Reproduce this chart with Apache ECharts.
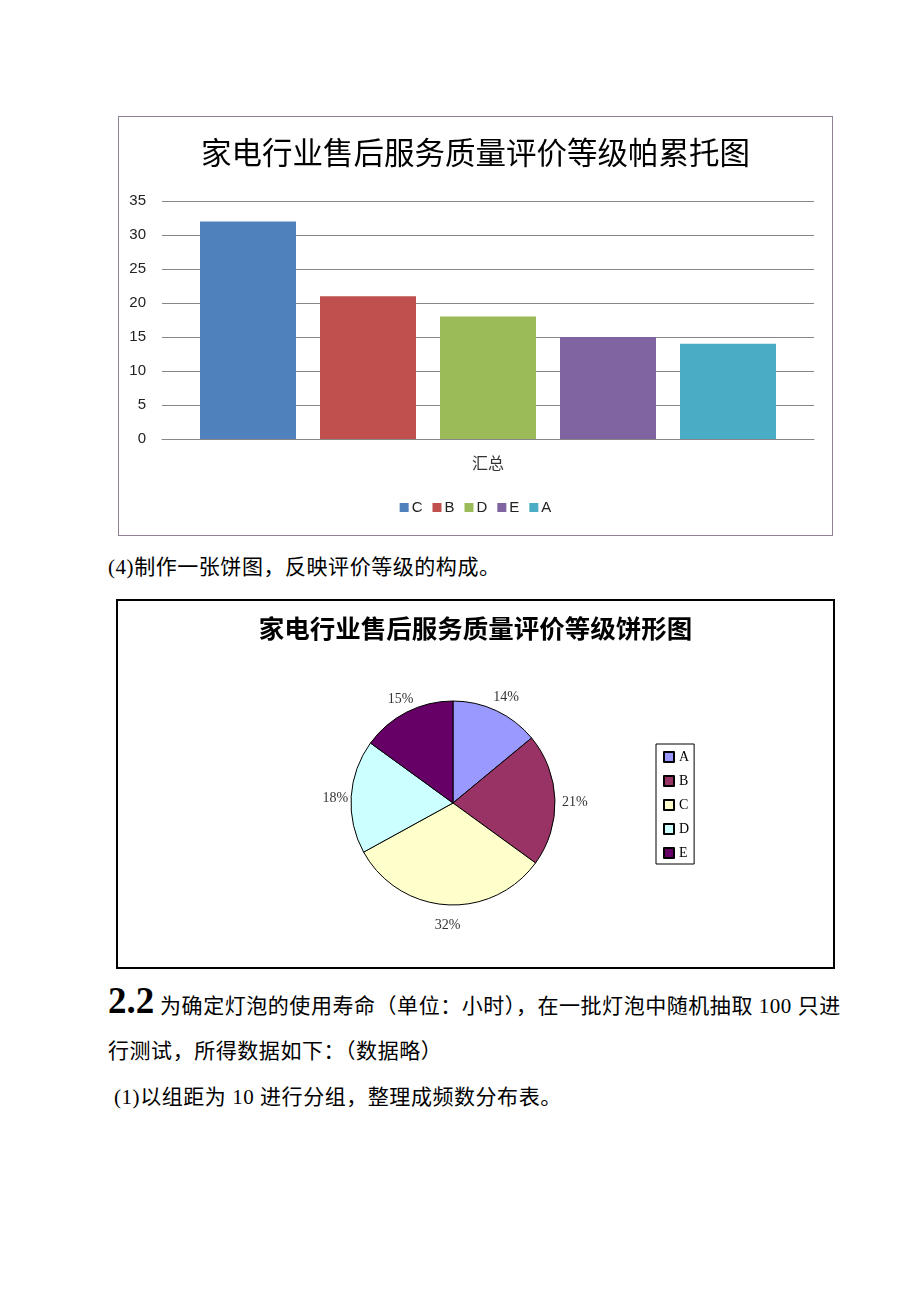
<!DOCTYPE html>
<html>
<head>
<meta charset="utf-8">
<script src="https://cdn.jsdelivr.net/npm/echarts@6/dist/echarts.min.js"></script>
<style>
  html, body { margin: 0; padding: 0; background: #fff; }
  body { width: 920px; height: 1302px; position: relative; overflow: hidden; }
  #bar { position: absolute; left: 118px; top: 116px; width: 715px; height: 420px; box-sizing: border-box; border: 1px solid #8e8198; }
  #pie { position: absolute; left: 116px; top: 599px; width: 719px; height: 370px; box-sizing: border-box; border: 2px solid #000; }
  .txt { position: absolute; font-family: 'Liberation Serif', 'Noto Sans CJK SC', serif; font-size: 21px; color: #000; white-space: nowrap; line-height: 1; letter-spacing: 0.55px; }
  .big { font-family: 'Liberation Serif', serif; font-weight: bold; font-size: 37px; letter-spacing: 0; }
</style>
</head>
<body>
<div id="bar"></div>
<div id="pie"></div>
<div class="txt" style="left:108px; top:557px;">(4)制作一张饼图，反映评价等级的构成。</div>
<div class="txt" style="left:108px; top:982px;"><span class="big">2.2</span> 为确定灯泡的使用寿命（单位：小时），在一批灯泡中随机抽取 100 只进</div>
<div class="txt" style="left:108px; top:1041px;">行测试，所得数据如下：（数据略）</div>
<div class="txt" style="left:114px; top:1087px;">(1)以组距为 10 进行分组，整理成频数分布表。</div>
<script>
// ---- data ----
const grades = ['A', 'B', 'C', 'D', 'E'];
const counts = [14, 21, 32, 18, 15];
const paretoOrder = ['C', 'B', 'D', 'E', 'A'];
const barCategory = ['汇总'];
const yTicks = [0, 5, 10, 15, 20, 25, 30, 35];
const barTitle = '家电行业售后服务质量评价等级帕累托图';
const pieTitle = '家电行业售后服务质量评价等级饼形图';
const barColors = ['#4F81BD', '#C0504D', '#9BBB59', '#8064A2', '#4BACC6'];
const pieColors = ['#9999FF', '#993366', '#FFFFCC', '#CCFFFF', '#660066'];

// ---- bar chart ----
const barChart = echarts.init(document.getElementById('bar'), null, { renderer: 'canvas' });
const countOf = g => counts[grades.indexOf(g)];
barChart.setOption({
  animation: false,
  color: barColors,
  title: {
    text: barTitle, left: 'center', top: 20, padding: 0,
    textStyle: { fontFamily: 'Noto Sans CJK SC', fontSize: 30.5, fontWeight: 'normal', color: '#000' }
  },
  legend: {
    data: paretoOrder, bottom: 20, left: 'center', padding: 0,
    itemWidth: 9, itemHeight: 9, itemGap: 10, icon: 'rect',
    textStyle: { fontFamily: 'Liberation Sans Narrow, Liberation Sans', fontSize: 15, color: '#222', padding: [0, 0, 0, -2] }
  },
  grid: { left: 43, right: 18, top: 84, bottom: 96 },
  xAxis: {
    type: 'category', data: barCategory,
    axisLine: { lineStyle: { color: '#868686' } },
    axisTick: { show: false },
    axisLabel: { margin: 16, fontFamily: 'Noto Sans CJK SC', fontSize: 16, color: '#333' }
  },
  yAxis: {
    type: 'value', min: yTicks[0], max: yTicks[yTicks.length - 1], interval: 5,
    axisLine: { show: false }, axisTick: { show: false },
    axisLabel: { margin: 16, fontFamily: 'Liberation Sans Narrow, Liberation Sans', fontSize: 15, color: '#222' },
    splitLine: { lineStyle: { color: '#868686', width: 1 } }
  },
  series: paretoOrder.map(g => ({
    name: g, type: 'bar', data: [countOf(g)], barWidth: 96, barGap: '25%'
  }))
});

// ---- pie chart ----
const pieChart = echarts.init(document.getElementById('pie'), null, { renderer: 'canvas' });
const pieCenter = [335, 202];
const pieRadius = 102;
const labelRadius = 120;
const total = counts.reduce((a, b) => a + b, 0);
const midAngles = [];
{
  let acc = 0;
  counts.forEach(v => { midAngles.push((acc + v / 2) / total * 2 * Math.PI); acc += v; });
}
pieChart.setOption({
  animation: false,
  color: pieColors,
  title: {
    text: pieTitle, left: 'center', top: 15, padding: 0,
    textStyle: { fontFamily: 'Noto Sans CJK SC', fontSize: 25.5, fontWeight: 'bold', color: '#000' }
  },
  legend: {
    orient: 'vertical', left: 538, top: 143, data: grades,
    borderColor: '#000', borderWidth: 1, padding: [6, 5, 4, 7],
    itemWidth: 10, itemHeight: 10, itemGap: 10, icon: 'rect',
    textStyle: { fontFamily: 'Liberation Serif', fontSize: 14, color: '#000' }
  },
  series: [{
    type: 'pie', center: pieCenter, radius: pieRadius, startAngle: 90, clockwise: true,
    itemStyle: { borderColor: '#000', borderWidth: 1 },
    label: { show: true, position: 'outside', formatter: '{d}%', fontFamily: 'Liberation Serif', fontSize: 14, color: '#333' },
    labelLine: { show: false, length: 5, length2: 0 },
    labelLayout: function (p) {
      const a = midAngles[p.dataIndex];
      return {
        x: pieCenter[0] + labelRadius * Math.sin(a) + 2,
        y: pieCenter[1] - labelRadius * Math.cos(a) + 3,
        align: 'center', verticalAlign: 'middle'
      };
    },
    data: grades.map((g, i) => ({ name: g, value: counts[i] }))
  }]
});
</script>
</body>
</html>
